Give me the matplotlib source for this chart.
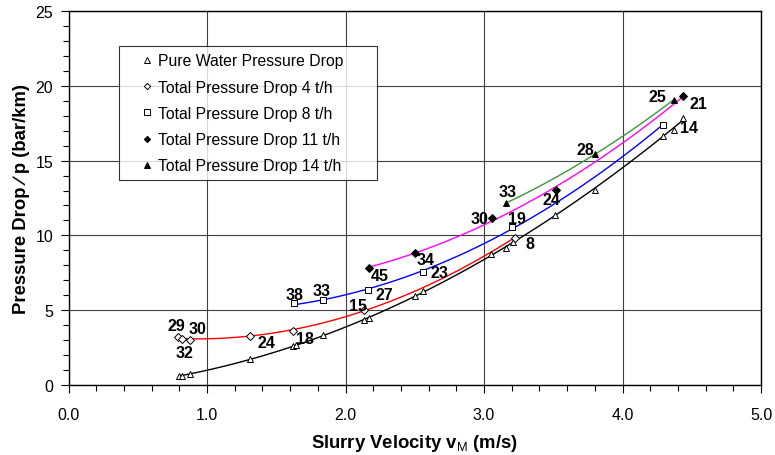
import numpy as np
import matplotlib.pyplot as plt

plt.rcParams['font.family'] = ['Liberation Sans', 'DejaVu Sans']
plt.rcParams['mathtext.fontset'] = 'custom'
plt.rcParams['mathtext.rm'] = 'Liberation Sans'

# Pure water pressure drop
water_v = [0.80, 0.82, 0.88, 1.31, 1.62, 1.64, 1.84, 2.13, 2.17, 2.50, 2.56,
           3.05, 3.16, 3.21, 3.51, 3.80, 4.29, 4.37, 4.44]
water_p = [0.62, 0.62, 0.73, 1.74, 2.59, 2.65, 3.32, 4.34, 4.48, 5.93, 6.26,
           8.73, 9.18, 9.54, 11.38, 13.03, 16.67, 17.07, 17.85]

# Total pressure drop at different solids throughputs
v4 = [0.79, 0.82, 0.88, 1.31, 1.62, 2.13, 3.22]
p4 = [3.23, 3.07, 3.00, 3.27, 3.63, 5.03, 9.83]

v8 = [1.63, 1.84, 2.16, 2.56, 3.20, 4.29]
p8 = [5.46, 5.66, 6.35, 7.57, 10.56, 17.36]

v11 = [2.17, 2.50, 3.06, 3.52, 4.44]
p11 = [7.82, 8.85, 11.16, 13.06, 19.34]

v14 = [3.16, 3.80, 4.37]
p14 = [12.17, 15.42, 19.07]

# point annotations (label, x, y)
notes = [('29', 0.78, 4.01), ('30', 0.93, 3.79), ('32', 0.84, 2.14),
         ('24', 1.43, 2.81), ('18', 1.71, 3.12), ('38', 1.63, 6.08),
         ('33', 1.83, 6.30), ('15', 2.09, 5.30), ('27', 2.28, 6.04),
         ('45', 2.25, 7.35), ('34', 2.58, 8.38), ('23', 2.68, 7.53),
         ('8', 3.33, 9.45), ('30', 2.97, 11.16), ('19', 3.24, 11.10),
         ('33', 3.17, 12.92), ('24', 3.49, 12.37), ('28', 3.73, 15.77),
         ('25', 4.25, 19.30), ('21', 4.55, 18.83), ('14', 4.48, 17.18)]

fig = plt.figure(figsize=(7.75, 4.56), dpi=100)
ax = fig.add_axes([0.0884, 0.1535, 0.8936, 0.8202])

series = [
    (water_v, water_p, 'black', '^', 'white', 'Pure Water Pressure Drop'),
    (v4, p4, 'red', 'D', 'white', 'Total Pressure Drop 4 t/h'),
    (v8, p8, 'blue', 's', 'white', 'Total Pressure Drop 8 t/h'),
    (v11, p11, 'magenta', 'D', 'black', 'Total Pressure Drop 11 t/h'),
    (v14, p14, '#3c963c', '^', 'black', 'Total Pressure Drop 14 t/h'),
]

for v, p, col, mk, fc, lab in series:
    # quadratic trend line through each series
    coef = np.polyfit(v, p, 2)
    xs = np.linspace(min(v), max(v), 100)
    ax.plot(xs, np.polyval(coef, xs), color=col, lw=1, zorder=2)
    ms = 4 if mk == 'D' else 5
    ax.plot(v, p, ls='none', marker=mk, ms=ms, mfc=fc, mec='black',
            mew=0.7, label=lab, zorder=3)

for txt, x, y in notes:
    ax.text(x, y, txt, fontsize=11.5, fontweight='bold', ha='center', va='center')

ax.set_xlim(0, 5)
ax.set_ylim(0, 25)
ax.set_xticks(np.arange(0, 5.01, 1.0))
ax.set_xticklabels(['%.1f' % t for t in np.arange(0, 5.01, 1.0)])
ax.set_xticks(np.arange(0, 5.01, 0.2), minor=True)
ax.set_yticks(np.arange(0, 26, 5))
ax.set_yticks(np.arange(0, 26, 1), minor=True)
ax.tick_params(which='major', direction='out', length=6, labelsize=11.5, width=0.8)
ax.tick_params(which='minor', direction='out', length=4, width=0.8)
ax.tick_params(axis='x', which='major', pad=10)
ax.tick_params(axis='y', which='major', pad=5)
ax.grid(True, which='major', color='#404040', lw=0.8)
for s in ax.spines.values():
    s.set_linewidth(1)

ax.set_xlabel(r'Slurry Velocity v$_\mathrm{M}$ (m/s)', fontsize=13.3,
              fontweight='bold', labelpad=7)
ax.set_ylabel('Pressure Drop \u2215 p (bar/km)', fontsize=13.3, fontweight='bold')

leg = ax.legend(loc='upper left', bbox_to_anchor=(0.073, 0.906, 0.3726, 0.0),
                mode='expand', borderaxespad=0,
                fontsize=11.3, frameon=True, fancybox=False, handlelength=2.67,
                handletextpad=-0.64, labelspacing=0.72, borderpad=0.45,
                markerscale=0.8)
leg.get_frame().set_edgecolor('black')
leg.get_frame().set_linewidth(0.8)

fig.savefig('out.png', dpi=100)
